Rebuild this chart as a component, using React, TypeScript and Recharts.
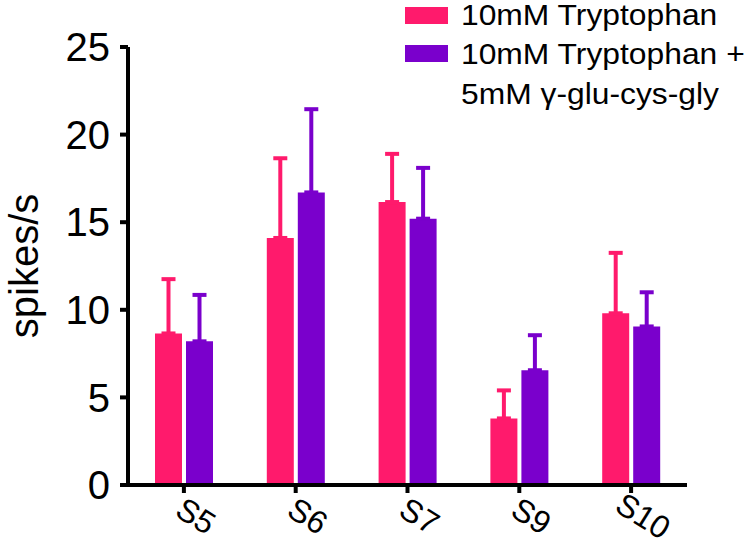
import React from "react";
import { BarChart, Bar, XAxis, YAxis, ErrorBar, Label } from "recharts";

const categories = ["S5", "S6", "S7", "S9", "S10"];
const tryptophan = [8.65, 14.1, 16.15, 3.8, 9.8];
const tryptophanErr = [3.1, 4.55, 2.75, 1.6, 3.45];
const withGsh = [8.2, 16.7, 15.2, 6.55, 9.05];
const withGshErr = [2.65, 4.75, 2.9, 2.0, 1.95];
const yTicks = [0, 5, 10, 15, 20, 25];

const PINK = "#FF1A6C";
const PURPLE = "#7A00CC";
const FONT = "Liberation Sans, Arial, sans-serif";

const data = categories.map((c, i) => ({
  name: c,
  a: tryptophan[i],
  aErr: [0, tryptophanErr[i]],
  b: withGsh[i],
  bErr: [0, withGshErr[i]],
}));

const XTick = (props: any) => {
  const { x, y, payload } = props;
  return (
    <text
      transform={`translate(${x + 12},${y + 21}) rotate(32)`}
      textAnchor="middle"
      dominantBaseline="central"
      fontSize={32}
      fontFamily={FONT}
      fill="#000"
    >
      {payload.value}
    </text>
  );
};

const YTitle = (props: any) => {
  const { viewBox } = props;
  const cx = 24;
  const cy = viewBox.y + viewBox.height / 2;
  return (
    <text
      x={cx}
      y={cy}
      transform={`rotate(-90, ${cx}, ${cy})`}
      textAnchor="middle"
      dominantBaseline="central"
      fontSize={40}
      fontFamily={FONT}
      fill="#000"
    >
      spikes/s
    </text>
  );
};

const wide = { display: "inline-block", transform: "scaleX(1.06)", transformOrigin: "left center" };

const LegendBox = () => (
  <div
    style={{
      position: "absolute",
      left: 405,
      top: 0,
      fontFamily: FONT,
      fontSize: 30,
      color: "#000",
      lineHeight: "40px",
      whiteSpace: "nowrap",
    }}
  >
    <div style={{ display: "flex", alignItems: "center", height: 30, lineHeight: "30px" }}>
      <span style={{ width: 43, height: 17, background: PINK, display: "inline-block", marginRight: 13 }} />
      <span style={wide}>10mM Tryptophan</span>
    </div>
    <div style={{ display: "flex", alignItems: "flex-start", marginTop: 4 }}>
      <span style={{ width: 43, height: 17, background: PURPLE, display: "inline-block", marginRight: 13, marginTop: 11 }} />
      <span style={wide}>
        10mM Tryptophan +<br />5mM γ-glu-cys-gly
      </span>
    </div>
  </div>
);

export default function App() {
  return (
    <div style={{ position: "absolute", left: 0, top: 0, width: 750, height: 542, background: "#fff" }}>
      <BarChart
        width={750}
        height={542}
        data={data}
        margin={{ top: 47, right: 63, left: 0, bottom: 0 }}
        barSize={27}
        barGap={4}
      >
        <XAxis
          dataKey="name"
          height={57}
          axisLine={{ stroke: "#000", strokeWidth: 4 }}
          tickLine={{ stroke: "#000", strokeWidth: 4 }}
          tickSize={8}
          tick={<XTick />}
          interval={0}
        />
        <YAxis
          width={128}
          domain={[0, 25]}
          ticks={yTicks}
          axisLine={{ stroke: "#000", strokeWidth: 4 }}
          tickLine={{ stroke: "#000", strokeWidth: 4 }}
          tickSize={8}
          tickMargin={10}
          tick={{ fill: "#000", fontSize: 40, fontFamily: FONT }}
        >
          <Label content={<YTitle />} />
        </YAxis>
        <Bar dataKey="a" fill={PINK} isAnimationActive={false}>
          <ErrorBar dataKey="aErr" direction="y" width={7} stroke={PINK} strokeWidth={4} />
        </Bar>
        <Bar dataKey="b" fill={PURPLE} isAnimationActive={false}>
          <ErrorBar dataKey="bErr" direction="y" width={7} stroke={PURPLE} strokeWidth={4} />
        </Bar>
      </BarChart>
      <LegendBox />
    </div>
  );
}
